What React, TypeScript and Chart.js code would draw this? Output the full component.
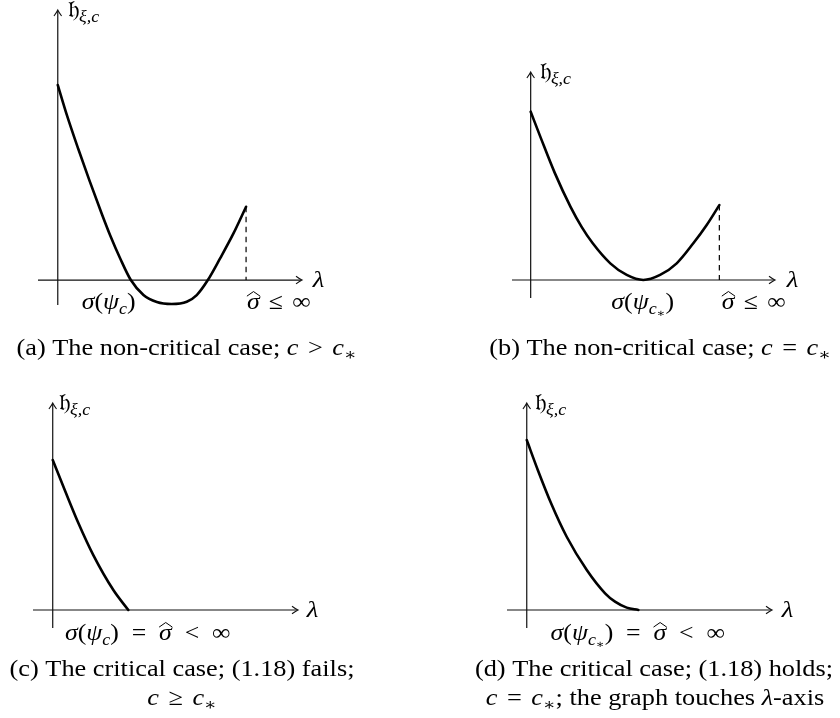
import React, { useEffect, useRef } from "react";
import { Chart, registerables } from "chart.js";

Chart.register(...registerables);

const FONT = '"Liberation Serif", "DejaVu Serif", serif';
const SX = 1.12; // horizontal stretch of text (wider TeX-like letterforms)

// ---------- data (λ in arbitrary units, σ̂ = 10; 𝔥 in arbitrary units, 𝔥(0) = 10) ----------
// (a) non-critical, c > c*
const lambdaA = [0, 0.48, 1.09, 1.68, 2.34, 2.78, 3.31, 3.88, 4.55, 5.26, 6.05, 6.85, 7.38, 7.97, 8.62, 9.33, 10];
const hA = [10, 8.47, 6.72, 5.11, 3.39, 2.3, 1.12, 0, -0.77, -1.13, -1.23, -1.11, -0.77, 0, 1.11, 2.39, 3.76];
// (b) non-critical, c = c*
const lambdaB = [0, 0.53, 1.27, 2.12, 2.7, 3.29, 4.22, 5.09, 5.97, 6.86, 7.74, 8.62, 9.33, 10];
const hB = [10, 8.46, 6.38, 4.33, 3.16, 2.18, 0.99, 0.3, 0, 0.3, 0.99, 2.18, 3.27, 4.45];
// (c) critical, (1.18) fails
const lambdaC = [0, 1.63, 3.39, 5.37, 8.02, 10];
const hC = [10, 7.95, 5.8, 3.66, 1.33, 0];
// (d) critical, (1.18) holds
const lambdaD = [0, 0.99, 2.18, 3.58, 5.38, 7.02, 7.91, 8.96, 10];
const hD = [10, 8.24, 6.28, 4.31, 2.35, 0.98, 0.49, 0.14, 0];

const sigmaHat = 10;

// axis extents [λmin, λmax, hmin, hmax]
const axesA = [-1.05, 12.97, -1.28, 13.85];
const axesB = [-0.99, 12.95, -1.07, 12.36];
const axesC = [-2.61, 32.45, -1.2, 13.8];
const axesD = [-1.77, 21.98, -1.06, 12.18];

type Seg = [string, string];
const G = "0.36"; // relation gap (em)
const G2 = "0.5";

// texts
const yLabel: Seg[] = [["𝔥", "r"], ["ξ,c", "s"]];
const xLabel: Seg[] = [["λ", "i"]];
const labA1: Seg[] = [["σ", "i"], ["(", "r"], ["ψ", "i"], ["c", "s"], [")", "r"]];
const labHatLeq: Seg[] = [["σ", "h"], [G, "g"], ["≤", "r"], [G, "g"], ["∞", "r"]];
const labB1: Seg[] = [["σ", "i"], ["(", "r"], ["ψ", "i"], ["c", "s"], ["∗", "ss"], [")", "r"]];
const labC1: Seg[] = [["σ", "i"], ["(", "r"], ["ψ", "i"], ["c", "s"], [")", "r"], [G2, "g"], ["=", "r"], [G2, "g"], ["σ", "h"], [G2, "g"], ["<", "r"], [G2, "g"], ["∞", "r"]];
const labD1: Seg[] = [["σ", "i"], ["(", "r"], ["ψ", "i"], ["c", "s"], ["∗", "ss"], [")", "r"], [G2, "g"], ["=", "r"], [G2, "g"], ["σ", "h"], [G2, "g"], ["<", "r"], [G2, "g"], ["∞", "r"]];
const capA: Seg[] = [["(a) The non-critical case; ", "r"], ["c", "i"], [G, "g"], [">", "r"], [G, "g"], ["c", "i"], ["∗", "sr"]];
const capB: Seg[] = [["(b) The non-critical case; ", "r"], ["c", "i"], [G, "g"], ["=", "r"], [G, "g"], ["c", "i"], ["∗", "sr"]];
const capC1: Seg[] = [["(c) The critical case; (1.18) fails;", "r"]];
const capC2: Seg[] = [["c", "i"], [G, "g"], ["≥", "r"], [G, "g"], ["c", "i"], ["∗", "sr"]];
const capD1: Seg[] = [["(d) The critical case; (1.18) holds;", "r"]];
const capD2: Seg[] = [["c", "i"], [G, "g"], ["=", "r"], [G, "g"], ["c", "i"], ["∗", "sr"], ["; the graph touches ", "r"], ["λ", "i"], ["-axis", "r"]];

function drawRich(ctx: CanvasRenderingContext2D, segs: Seg[], x: number, y: number, align: string, size: number) {
  const parts = segs.map(([t, k]) => {
    let sz = size, dy = 0, it = true;
    if (k === "s" || k === "sr") { sz = Math.round(size * 0.7 * 10) / 10; dy = size * 0.2; }
    if (k === "ss") { sz = Math.round(size * 0.5 * 10) / 10; dy = size * 0.34; }
    if (k === "r" || k === "sr") it = false;
    const font = `${it ? "italic " : ""}${sz}px ${FONT}`;
    let w: number;
    if (k === "g") {
      w = parseFloat(t) * size * SX;
    } else {
      ctx.font = font;
      w = ctx.measureText(t).width * SX;
    }
    return { t, k, font, w, dy, sz };
  });
  const total = parts.reduce((s, p) => s + p.w, 0);
  let cx = align === "center" ? x - total / 2 : x;
  ctx.fillStyle = "#000";
  ctx.textBaseline = "alphabetic";
  ctx.textAlign = "left";
  for (const p of parts) {
    if (p.k !== "g") {
      ctx.save();
      ctx.font = p.font;
      ctx.translate(cx, y + p.dy);
      ctx.scale(SX, 1);
      ctx.fillText(p.t, 0, 0);
      ctx.restore();
    }
    if (p.k === "h") {
      ctx.save();
      ctx.strokeStyle = "#000";
      ctx.lineWidth = 1;
      ctx.beginPath();
      ctx.moveTo(cx + p.w * 0.0, y - size * 0.56);
      ctx.lineTo(cx + p.w * 0.52, y - size * 0.76);
      ctx.lineTo(cx + p.w * 1.04, y - size * 0.56);
      ctx.stroke();
      ctx.restore();
    }
    cx += p.w;
  }
}

interface Lab { segs: Seg[]; dx: number; dy: number; align: string; }
interface Cap { segs: Seg[]; x: number; y: number; }

interface PanelCfg {
  left: number; top: number; width: number; height: number;
  lambda: number[]; h: number[]; axes: number[];
  padding: { left: number; right: number; top: number; bottom: number };
  dashed: boolean;
  labels: Lab[];
  xLabDx: number; yLabDx: number;
  captions: Cap[];
}

const panels: PanelCfg[] = [
  {
    left: 0, top: 0, width: 420, height: 360,
    lambda: lambdaA, h: hA, axes: axesA,
    padding: { left: 38, right: 118, top: 10, bottom: 55 }, dashed: true,
    labels: [
      { segs: labA1, dx: 51, dy: 29, align: "center" },
      { segs: labHatLeq, dx: 221, dy: 29, align: "center" },
    ],
    xLabDx: 255, yLabDx: 10,
    captions: [{ segs: capA, x: 186.5, y: 355 }],
  },
  {
    left: 420, top: 0, width: 420, height: 360,
    lambda: lambdaB, h: hB, axes: axesB,
    padding: { left: 92, right: 65, top: 72, bottom: 62 }, dashed: true,
    labels: [
      { segs: labB1, dx: 112, dy: 29, align: "center" },
      { segs: labHatLeq, dx: 223, dy: 29, align: "center" },
    ],
    xLabDx: 256, yLabDx: 9,
    captions: [{ segs: capB, x: 240, y: 355 }],
  },
  {
    left: 0, top: 360, width: 420, height: 358,
    lambda: lambdaC, h: hC, axes: axesC,
    padding: { left: 33, right: 122, top: 43, bottom: 90 }, dashed: false,
    labels: [{ segs: labC1, dx: 95, dy: 30, align: "center" }],
    xLabDx: 254, yLabDx: 6,
    captions: [
      { segs: capC1, x: 182, y: 316 },
      { segs: capC2, x: 182, y: 345 },
    ],
  },
  {
    left: 420, top: 360, width: 420, height: 358,
    lambda: lambdaD, h: hD, axes: axesD,
    padding: { left: 87, right: 68, top: 43, bottom: 90 }, dashed: false,
    labels: [{ segs: labD1, dx: 111, dy: 30, align: "center" }],
    xLabDx: 255, yLabDx: 8,
    captions: [
      { segs: capD1, x: 234, y: 316 },
      { segs: capD2, x: 235, y: 345 },
    ],
  },
];

function arrowHead(ctx: CanvasRenderingContext2D, x: number, y: number, dir: "right" | "up") {
  const L = 6, W = 3.8;
  ctx.beginPath();
  if (dir === "right") {
    ctx.moveTo(x - L, y - W);
    ctx.quadraticCurveTo(x - L * 0.35, y - W * 0.25, x, y);
    ctx.quadraticCurveTo(x - L * 0.35, y + W * 0.25, x - L, y + W);
  } else {
    ctx.moveTo(x - W, y + L);
    ctx.quadraticCurveTo(x - W * 0.25, y + L * 0.35, x, y);
    ctx.quadraticCurveTo(x + W * 0.25, y + L * 0.35, x + W, y + L);
  }
  ctx.stroke();
}

function Panel({ cfg }: { cfg: PanelCfg }) {
  const ref = useRef<HTMLCanvasElement | null>(null);
  useEffect(() => {
    const canvas = ref.current;
    if (!canvas) return;
    const curve = cfg.lambda.map((x, i) => ({ x, y: cfg.h[i] }));
    const datasets: any[] = [
      {
        data: curve, borderColor: "#000", borderWidth: 2.6, pointRadius: 0,
        cubicInterpolationMode: "monotone", fill: false, clip: false,
        borderCapStyle: "round", borderJoinStyle: "round",
      },
    ];
    if (cfg.dashed) {
      const endH = cfg.h[cfg.h.length - 1];
      datasets.push({
        data: [{ x: sigmaHat, y: endH }, { x: sigmaHat, y: 0 }],
        borderColor: "#000", borderWidth: 1.2, borderDash: [5.5, 4.5], pointRadius: 0,
        tension: 0, fill: false, clip: false,
      });
    }
    const decor = {
      id: "decor",
      beforeDatasetsDraw(chart: any) {
        const ctx: CanvasRenderingContext2D = chart.ctx;
        const xs = chart.scales.x, ys = chart.scales.y;
        const ox = xs.getPixelForValue(0), oy = ys.getPixelForValue(0);
        ctx.save();
        ctx.strokeStyle = "#111";
        ctx.lineWidth = 1.2;
        ctx.beginPath();
        ctx.moveTo(xs.left, oy);
        ctx.lineTo(xs.right - 1, oy);
        ctx.moveTo(ox, ys.bottom);
        ctx.lineTo(ox, ys.top + 1);
        ctx.stroke();
        ctx.lineWidth = 1.1;
        arrowHead(ctx, xs.right, oy, "right");
        arrowHead(ctx, ox, ys.top, "up");
        ctx.restore();
      },
      afterDraw(chart: any) {
        const ctx: CanvasRenderingContext2D = chart.ctx;
        const xs = chart.scales.x, ys = chart.scales.y;
        const ox = xs.getPixelForValue(0), oy = ys.getPixelForValue(0);
        ctx.save();
        for (const l of cfg.labels) drawRich(ctx, l.segs, ox + l.dx, oy + l.dy, l.align, 23);
        drawRich(ctx, xLabel, ox + cfg.xLabDx, oy + 7, "left", 24);
        drawRich(ctx, yLabel, ox + cfg.yLabDx, ys.top + 7, "left", 23);
        for (const c of cfg.captions) drawRich(ctx, c.segs, c.x, c.y, "center", 23.5);
        ctx.restore();
      },
    };
    const chart = new Chart(canvas, {
      type: "line",
      data: { datasets },
      options: {
        animation: false,
        responsive: false,
        maintainAspectRatio: false,
        events: [],
        layout: { padding: cfg.padding },
        scales: {
          x: { type: "linear", min: cfg.axes[0], max: cfg.axes[1], display: false },
          y: { type: "linear", min: cfg.axes[2], max: cfg.axes[3], display: false },
        },
        plugins: { legend: { display: false }, tooltip: { enabled: false }, title: { display: false } },
      } as any,
      plugins: [decor],
    });
    return () => chart.destroy();
  }, [cfg]);
  return (
    <canvas
      ref={ref}
      width={cfg.width}
      height={cfg.height}
      style={{ position: "absolute", left: cfg.left, top: cfg.top, width: cfg.width, height: cfg.height }}
    />
  );
}

export default function App() {
  return (
    <div style={{ position: "absolute", left: 0, top: 0, width: 840, height: 718, background: "#fff" }}>
      {panels.map((p, i) => (
        <Panel key={i} cfg={p} />
      ))}
    </div>
  );
}
